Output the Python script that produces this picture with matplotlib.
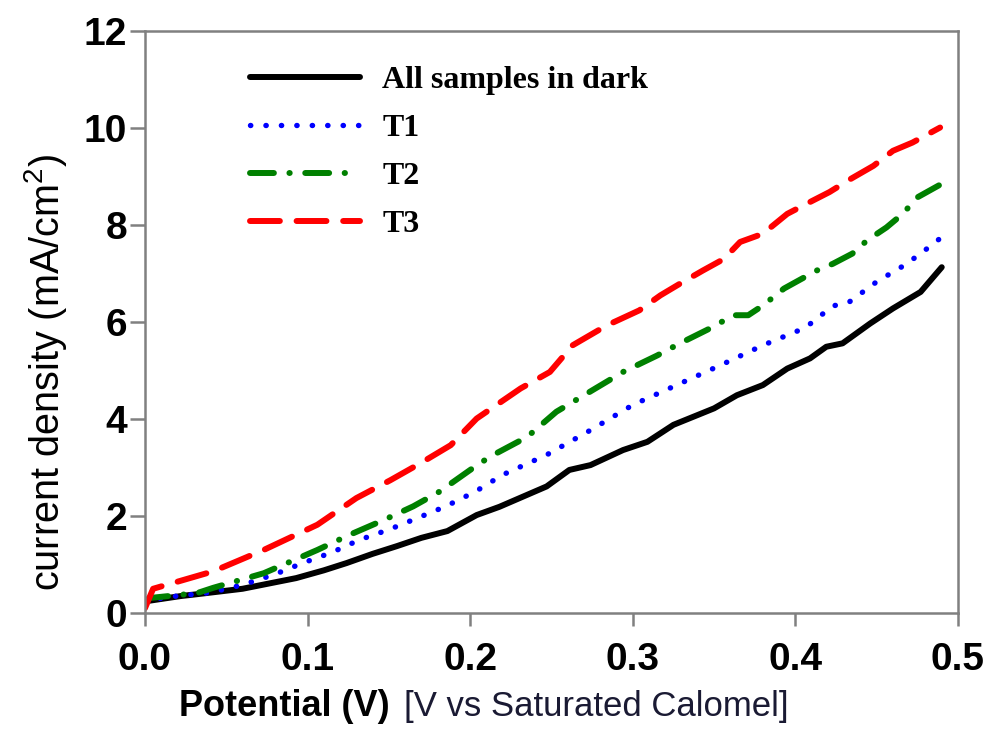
import matplotlib.pyplot as plt

dark_x = [0.0, 0.022, 0.03, 0.06, 0.093, 0.11, 0.124, 0.14, 0.155, 0.17, 0.186, 0.204, 0.218,
          0.247, 0.261, 0.274, 0.294, 0.309, 0.325, 0.35, 0.364, 0.38, 0.395, 0.409, 0.419,
          0.429, 0.446, 0.46, 0.477, 0.49]
dark_y = [0.24, 0.35, 0.38, 0.5, 0.72, 0.88, 1.03, 1.22, 1.38, 1.55, 1.69, 2.02, 2.19,
          2.61, 2.95, 3.05, 3.36, 3.53, 3.88, 4.22, 4.49, 4.7, 5.04, 5.25, 5.49,
          5.56, 5.97, 6.28, 6.62, 7.13]

t1_x = [0.0, 0.017, 0.04, 0.06, 0.08, 0.097, 0.115, 0.132, 0.15, 0.167, 0.185, 0.203, 0.22,
        0.247, 0.274, 0.3, 0.327, 0.354, 0.38, 0.406, 0.423, 0.433, 0.45, 0.467, 0.477, 0.49]
t1_y = [0.25, 0.34, 0.42, 0.58, 0.8, 1.03, 1.25, 1.51, 1.72, 1.95, 2.2, 2.5, 2.85,
        3.26, 3.77, 4.29, 4.7, 5.11, 5.52, 5.88, 6.33, 6.41, 6.83, 7.17, 7.41, 7.75]

t2_x = [0.0, 0.003, 0.032, 0.042, 0.073, 0.106, 0.125, 0.147, 0.165, 0.181, 0.2, 0.212, 0.235,
        0.253, 0.265, 0.294, 0.315, 0.329, 0.347, 0.362, 0.371, 0.38, 0.393, 0.413, 0.423,
        0.435, 0.444, 0.456, 0.466, 0.475, 0.49]
t2_y = [0.25, 0.31, 0.41, 0.52, 0.82, 1.3, 1.6, 1.92, 2.2, 2.5, 2.95, 3.22, 3.63,
        4.15, 4.39, 4.97, 5.31, 5.56, 5.86, 6.14, 6.14, 6.34, 6.69, 7.06, 7.2,
        7.41, 7.68, 7.95, 8.23, 8.57, 8.85]

t3_x = [0.0, 0.005, 0.042, 0.073, 0.106, 0.13, 0.151, 0.17, 0.188, 0.204, 0.231, 0.249, 0.263,
        0.284, 0.304, 0.317, 0.329, 0.343, 0.356, 0.366, 0.38, 0.395, 0.407, 0.421, 0.434,
        0.448, 0.46, 0.472, 0.489]
t3_y = [0.1, 0.5, 0.86, 1.3, 1.82, 2.37, 2.74, 3.1, 3.46, 4.01, 4.63, 4.97, 5.52,
        5.93, 6.24, 6.55, 6.79, 7.06, 7.3, 7.65, 7.82, 8.23, 8.44, 8.68, 8.95,
        9.22, 9.53, 9.7, 10.01]

labels = ['All samples in dark', 'T1', 'T2', 'T3']

fig = plt.figure(figsize=(9.91, 7.4), dpi=100)
ax = fig.add_axes([0.1463, 0.1716, 0.8204, 0.7865])

lw = 4.3
ax.plot(dark_x, dark_y, color='black', lw=lw, solid_capstyle='round',
        solid_joinstyle='round', label=labels[0])
ax.plot(t1_x, t1_y, color='#0000ff', lw=3.9, ls=(0, (0.05, 2.8)),
        dash_capstyle='round', label=labels[1])
ax.plot(t2_x, t2_y, color='#008000', lw=lw, ls=(0, (4.0, 2.6, 0.05, 2.6)),
        dash_capstyle='round', label=labels[2])
ax.plot(t3_x, t3_y, color='#ff0000', lw=lw, ls=(0, (5, 2.8)),
        dash_capstyle='round', label=labels[3])

ax.set_xlim(0, 0.5)
ax.set_ylim(0, 12)
ax.set_xticks([0.0, 0.1, 0.2, 0.3, 0.4, 0.5])
ax.set_xticklabels(['0.0', '0.1', '0.2', '0.3', '0.4', '0.5'])
ax.set_yticks(range(0, 13, 2))

for s in ax.spines.values():
    s.set_color('#808080')
    s.set_linewidth(1.8)

ax.tick_params(axis='y', direction='out', length=11, width=1.8, color='#808080', pad=2)
ax.tick_params(axis='x', direction='out', length=9, width=1.8, color='#808080', pad=12)
for lab in ax.get_xticklabels() + ax.get_yticklabels():
    lab.set_fontfamily('Liberation Sans')
    lab.set_fontweight('bold')
    lab.set_fontsize(28)

fig.text(0.046, 0.497, 'current density (mA/cm$^\\mathregular{2}$)', rotation=90,
         fontfamily='Liberation Sans', fontsize=28.5, ha='center', va='center')

fig.text(0.181, 0.033, 'Potential (V)', fontfamily='Liberation Sans',
         fontweight='bold', fontsize=26, ha='left', va='baseline')
fig.text(0.408, 0.033, '[V vs Saturated Calomel]', fontfamily='Liberation Sans',
         fontsize=25, color='#1a1a33', ha='left', va='baseline')

leg = ax.legend(loc='upper left', bbox_to_anchor=(0.129, 0.94), frameon=False,
                borderaxespad=0, borderpad=0,
                handlelength=3.45, handletextpad=0.7, labelspacing=0.58,
                prop={'family': 'Liberation Serif', 'weight': 'bold', 'size': 23})

fig.savefig('out.png', dpi=100)
